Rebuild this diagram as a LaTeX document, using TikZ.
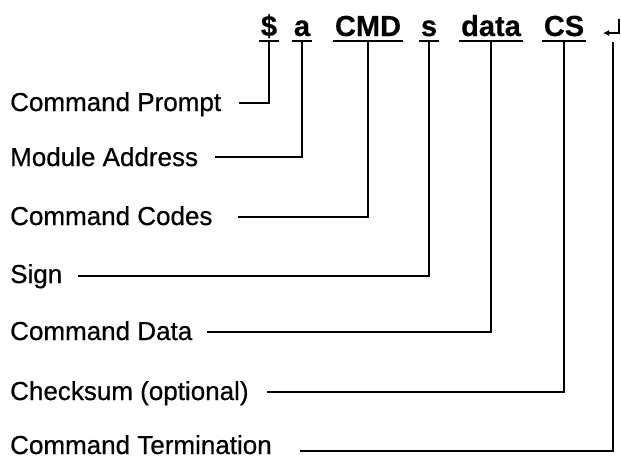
\documentclass[tikz,border=0pt]{standalone}
\usepackage{fontspec}
\setmainfont{Liberation Sans}
\newfontface\lblfont{Liberation Sans}[RawFeature={embolden=0.6}]
\newfontface\tokfont{Liberation Sans Bold}[RawFeature={embolden=0.5}]
\usetikzlibrary{arrows.meta}
\begin{document}
\begin{tikzpicture}[x=1pt,y=-1pt,
  lbl/.style={anchor=base west,inner sep=0pt,font=\lblfont\fontsize{26}{30}\selectfont},
  tok/.style={anchor=base,font=\tokfont\fontsize{29}{34}\selectfont,inner xsep=2pt,inner ysep=0pt,text depth=5pt},
  ul/.style={line width=1.5pt},
  conn/.style={line width=1.4pt}]
\useasboundingbox (0,0) rectangle (621,459);
% tokens
\node[tok] (dollar) at (269,36) {\$};
\node[tok] (addr) at (302,36) {a};
\node[tok] (cmd) at (368,36) {CMD};
\node[tok] (sign) at (429,36) {s};
\node[tok] (data) at (491,36) {data};
\node[tok] (cs) at (564,36) {CS};
\foreach \t in {dollar,addr,cmd,sign,data,cs}
  \draw[ul] (\t.south west) -- (\t.south east);
% return symbol
\draw[conn,-{Latex[length=6pt,width=6pt]}] (619,19) -- (619,33) -- (603,33);
\coordinate (ret) at (613,42);
% labels
\node[lbl] (l1) at (10,111) {Command Prompt};
\node[lbl] (l2) at (10,166) {Module Address};
\node[lbl] (l3) at (10,225) {Command Codes};
\node[lbl] (l4) at (10,283) {Sign};
\node[lbl] (l5) at (10,340) {Command Data};
\node[lbl] (l6) at (10,400) {Checksum (optional)};
\node[lbl] (l7) at (10,454) {Command Termination};
% connector starts
\coordinate (c1) at (239,103);
\coordinate (c2) at (215,157);
\coordinate (c3) at (238,217);
\coordinate (c4) at (78,276);
\coordinate (c5) at (207,332);
\coordinate (c6) at (267,392);
\coordinate (c7) at (300,451);
% connectors
\draw[conn] (c1) -| (dollar.south);
\draw[conn] (c2) -| (addr.south);
\draw[conn] (c3) -| (cmd.south);
\draw[conn] (c4) -| (sign.south);
\draw[conn] (c5) -| (data.south);
\draw[conn] (c6) -| (cs.south);
\draw[conn] (c7) -| (ret);
\end{tikzpicture}
\end{document}
